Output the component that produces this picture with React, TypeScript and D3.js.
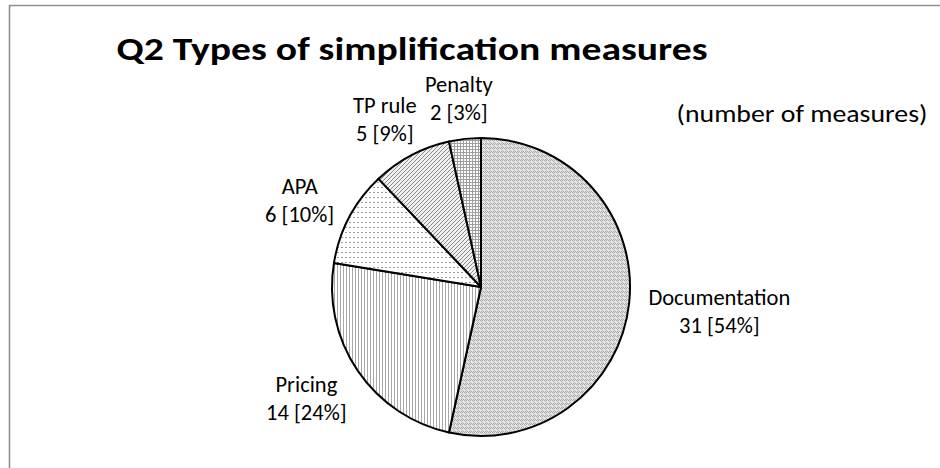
import { useMemo } from 'react'
import * as d3 from 'd3'

// data
const categories = ['Documentation', 'Pricing', 'APA', 'TP rule', 'Penalty']
const counts = [31, 14, 6, 5, 2]
const shares = ['54%', '24%', '10%', '9%', '3%']
const patternIds = ['pDoc', 'pPricing', 'pApa', 'pTp', 'pPenalty']

const title = 'Q2 Types of simplification measures'
const subtitle = '(number of measures)'

const W = 940
const H = 468
const FONT = 'Carlito, Calibri, Lato, sans-serif'

export default function App() {
  const cx = 481
  const cy = 287
  const r = 149
  const labelSize = 22.5
  const lineH = 28

  const slices = useMemo(() => {
    const pie = d3.pie<number>().sort(null).value(d => d)
    return pie(counts)
  }, [])

  const arc = d3.arc<d3.PieArcDatum<number>>().innerRadius(0).outerRadius(r)

  // rough text box sizes so labels sit just outside the pie, like Excel does
  const labelBox = (i: number) => {
    const line1 = categories[i]
    const line2 = `${counts[i]} [${shares[i]}]`
    const w = Math.max(line1.length, line2.length) * 11.5
    return { w, h: lineH * 2 }
  }

  return (
    <svg width={W} height={H} style={{ position: 'absolute', left: 0, top: 0, background: '#fff' }}
      fontFamily={FONT}>
      <defs>
        <pattern id="pDoc" width={4} height={4} patternUnits="userSpaceOnUse">
          <rect width={4} height={4} fill="#e6e6e6" />
          <rect x={0} y={0} width={1} height={1} fill="#a4a4a4" />
          <rect x={2} y={0} width={1} height={1} fill="#a4a4a4" />
          <rect x={1} y={1} width={1} height={1} fill="#a4a4a4" />
          <rect x={3} y={1} width={1} height={1} fill="#a4a4a4" />
          <rect x={0} y={2} width={1} height={1} fill="#b8b8b8" />
          <rect x={1} y={3} width={1} height={1} fill="#b8b8b8" />
        </pattern>
        <pattern id="pPricing" width={3} height={3} patternUnits="userSpaceOnUse">
          <rect width={3} height={3} fill="#fff" />
          <rect x={0} y={0} width={1} height={3} fill="#a8a8a8" />
        </pattern>
        <pattern id="pApa" width={4} height={5} patternUnits="userSpaceOnUse">
          <rect width={4} height={5} fill="#fff" />
          <rect x={0} y={0} width={2} height={1} fill="#9a9a9a" />
        </pattern>
        <pattern id="pTp" width={4} height={4} patternUnits="userSpaceOnUse">
          <rect width={4} height={4} fill="#f0f0f0" />
          <path d="M0,4 L4,0 M-1,1 L1,-1 M3,5 L5,3" stroke="#8a8a8a" strokeWidth={1} />
        </pattern>
        <pattern id="pPenalty" width={3} height={3} patternUnits="userSpaceOnUse">
          <rect width={3} height={3} fill="#fff" />
          <rect x={0} y={0} width={3} height={1} fill="#a0a0a0" />
          <rect x={0} y={0} width={1} height={3} fill="#a0a0a0" />
        </pattern>
      </defs>

      {/* chart area frame, only top and left edges are visible */}
      <path d={`M9.5,${H} V5.5 H${W}`} fill="none" stroke="#8f8f8f" strokeWidth={1.6} />

      <text x={412} y={60} textAnchor="middle" fontSize={32} fontWeight="bold" fill="#000"
        textLength={591} lengthAdjust="spacingAndGlyphs">
        {title}
      </text>
      <text x={802} y={122} textAnchor="middle" fontSize={24} fill="#000"
        textLength={251} lengthAdjust="spacingAndGlyphs">
        {subtitle}
      </text>

      <g transform={`translate(${cx},${cy})`}>
        {slices.map((s, i) => (
          <path key={categories[i]} d={arc(s) || ''} fill={`url(#${patternIds[i]})`}
            stroke="#000" strokeWidth={2} strokeLinejoin="round" />
        ))}
        {slices.map((s, i) => {
          const mid = (s.startAngle + s.endAngle) / 2
          const sx = Math.sin(mid)
          const sy = -Math.cos(mid)
          const { w, h } = labelBox(i)
          const ar = r + 16
          const lx = ar * sx + sx * w / 2
          const ly = ar * sy + sy * h / 2
          return (
            <text key={categories[i]} textAnchor="middle" fontSize={labelSize} fill="#000">
              <tspan x={lx} y={ly - 3}>{categories[i]}</tspan>
              <tspan x={lx} y={ly - 3 + lineH}>{`${counts[i]} [${shares[i]}]`}</tspan>
            </text>
          )
        })}
      </g>
    </svg>
  )
}
